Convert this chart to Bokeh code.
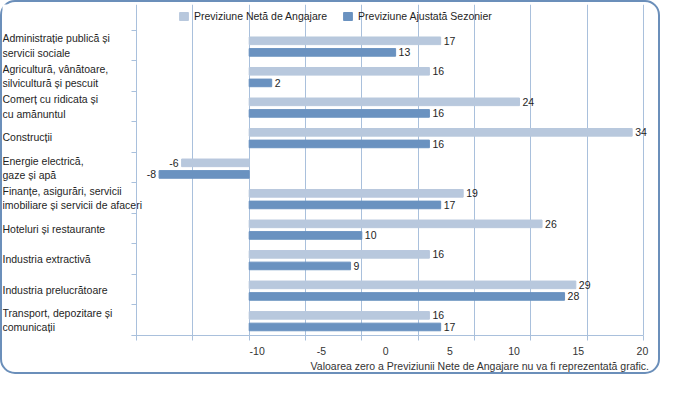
from bokeh.plotting import figure
from bokeh.models import (ColumnDataSource, Range1d, LinearAxis, FixedTicker, Legend, LegendItem,
                          Title, PrintfTickFormatter, CustomJSTickFormatter)
from bokeh.core.properties import value
from bokeh.transform import dodge
from bokeh.embed import file_html
from bokeh.resources import INLINE

# ---------------- data ----------------
categories = [
    "Administrație publică și\nservicii sociale",
    "Agricultură, vânătoare,\nsilvicultură și pescuit",
    "Comerț cu ridicata și\ncu amănuntul",
    "Construcții",
    "Energie electrică,\ngaze și apă",
    "Finanțe, asigurări, servicii\nimobiliare și servicii de afaceri",
    "Hoteluri și restaurante",
    "Industria extractivă",
    "Industria prelucrătoare",
    "Transport, depozitare și\ncomunicații",
]
neta = [17, 16, 24, 34, -6, 19, 26, 16, 29, 16]
ajustata = [13, 2, 16, 16, -8, 17, 10, 9, 28, 17]
series_names = ["Previziune Netă de Angajare", "Previziune Ajustată Sezonier"]
grid_ticks = [-10, -5, 0, 5, 10, 15, 20, 25, 30, 35]
tick_labels = [-10, -5, 0, 5, 10, 15, 20]
note = "Valoarea zero a Previziunii Nete de Angajare nu va fi reprezentată grafic."

# ---------------- style ----------------
LIGHT = "#b8c8dd"
DARK = "#6a92c0"
GRID = "#a9c0dc"
FRAME = "#6b8fba"
TXT = "#1e1e1e"
FONT = "Liberation Sans"
FS = "10.5px"

n = len(categories)
slot = [n - i - 0.5 for i in range(n)]   # first category on top

src = ColumnDataSource(dict(
    cat=categories,
    slot=slot,
    neta=neta,
    ajustata=ajustata,
    neta_txt=[str(v) for v in neta],
    aj_txt=[str(v) for v in ajustata],
    neta_align=["left" if v >= 0 else "right" for v in neta],
    aj_align=["left" if v >= 0 else "right" for v in ajustata],
    neta_off=[3 if v >= 0 else -3 for v in neta],
    aj_off=[3 if v >= 0 else -3 for v in ajustata],
))

blank = CustomJSTickFormatter(code="return ''")
xr = Range1d(-21.9, 35.54)      # left part of the frame holds the category names
yr = Range1d(0, n + 0.85)       # top strip of the frame holds the legend

p = figure(width=660, height=374, y_range=yr, x_range=xr,
           output_backend="svg", toolbar_location=None,
           min_border_left=0, min_border_right=13, min_border_top=2, min_border_bottom=41)
p.styles = {"border": f"2px solid {FRAME}", "border-radius": "15px"}
p.border_fill_alpha = 0
p.background_fill_color = "white"
p.outline_line_color = None

# category names
p.text(x=xr.start, y="slot", text="cat", x_offset=0, text_align="left", text_baseline="middle",
       text_line_height=1.2, text_font=value(FONT), text_font_size=FS, text_color=TXT, source=src)

# bars
r1 = p.hbar(y=dodge("slot", 0.16), left=0, right="neta", height=0.25, color=LIGHT, source=src)
r2 = p.hbar(y=dodge("slot", -0.22), left=0, right="ajustata", height=0.25, color=DARK, source=src)

# value labels
for col, txt, al, off, dd in [("neta", "neta_txt", "neta_align", "neta_off", 0.16),
                              ("ajustata", "aj_txt", "aj_align", "aj_off", -0.22)]:
    p.text(x=col, y=dodge("slot", dd), text=txt, x_offset=off, text_align=al,
           text_baseline="middle", text_font=value(FONT), text_font_size=FS,
           text_color=TXT, source=src)

# grid (only over the category rows)
p.xgrid.ticker = FixedTicker(ticks=grid_ticks)
p.xgrid.bounds = (0, n)
p.xgrid.grid_line_color = GRID
p.ygrid.grid_line_color = None

# bottom axis: line + ticks at the grid lines
xa = p.xaxis[0]
xa.ticker = FixedTicker(ticks=grid_ticks)
xa.bounds = (grid_ticks[0] - 0.45, grid_ticks[-1])
xa.formatter = blank
xa.axis_line_color = GRID
xa.major_tick_line_color = GRID
xa.major_tick_out = 5
xa.major_tick_in = 0
xa.minor_tick_line_color = None
xa.major_label_text_font_size = "0px"
xa.major_label_standoff = 0

# tick labels as printed in the original (they do not sit on the grid lines)
p.extra_x_ranges = {"lbl": Range1d(-29.83, 20.55)}
la = LinearAxis(x_range_name="lbl", ticker=FixedTicker(ticks=tick_labels),
                formatter=PrintfTickFormatter(format="%d"))
la.axis_line_color = None
la.major_tick_line_color = None
la.minor_tick_line_color = None
la.major_label_standoff = 0
la.major_label_text_font = FONT
la.major_label_text_font_size = FS
la.major_label_text_color = "#333333"
p.add_layout(la, "below")

# left axis at x=-10 with ticks at the category boundaries
ya = p.yaxis[0]
ya.fixed_location = grid_ticks[0]
ya.bounds = (0, n)
ya.ticker = FixedTicker(ticks=list(range(n + 1)))
ya.formatter = blank
ya.axis_line_color = GRID
ya.major_tick_line_color = GRID
ya.major_tick_out = 5
ya.major_tick_in = 0
ya.minor_tick_line_color = None
ya.major_label_text_font_size = "0px"
ya.major_label_standoff = 0

# note
p.add_layout(Title(text=note, align="right", offset=0, standoff=0, text_font=FONT,
                   text_font_size=FS, text_font_style="normal", text_color="#333333"), "below")

# legend (inside the top strip of the frame)
legend = Legend(items=[LegendItem(label=series_names[0], renderers=[r1]),
                       LegendItem(label=series_names[1], renderers=[r2])],
                location=(176, 313), orientation="horizontal",
                glyph_width=11, glyph_height=10, label_height=11, label_standoff=5, spacing=15,
                padding=0, margin=0, border_line_color=None, background_fill_alpha=0,
                label_text_font=FONT, label_text_font_size=FS, label_text_color=TXT)
p.add_layout(legend, "center")

open("out.html", "w").write(file_html(p, INLINE))
